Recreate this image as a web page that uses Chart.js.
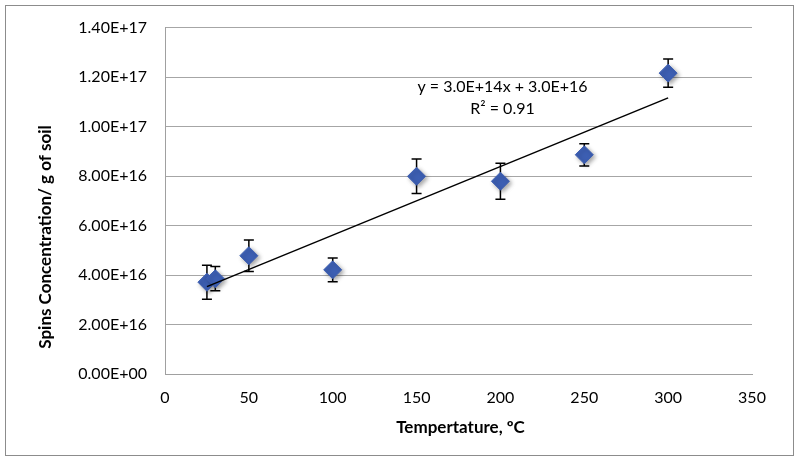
<!DOCTYPE html>
<html><head><meta charset="utf-8">
<script src="https://cdn.jsdelivr.net/npm/chart.js@4/dist/chart.umd.min.js"></script>
<style>html,body{margin:0;padding:0;background:#fff}#wrap{width:800px;height:463px}</style>
</head><body><div id="wrap"><canvas id="c" width="800" height="463"></canvas></div>
<script>
const temperatures = [25, 30, 50, 100, 150, 200, 250, 300];
const spins = [3.71e16, 3.85e16, 4.78e16, 4.21e16, 7.99e16, 7.79e16, 8.86e16, 1.216e17];
const spinErrors = [0.69e16, 0.49e16, 0.64e16, 0.48e16, 0.70e16, 0.73e16, 0.45e16, 0.57e16];
const xTickValues = [0, 50, 100, 150, 200, 250, 300, 350];
const yTickValues = [0, 2e16, 4e16, 6e16, 8e16, 1e17, 1.2e17, 1.4e17];
const yTickLabels = ['0.00E+00', '2.00E+16', '4.00E+16', '6.00E+16', '8.00E+16', '1.00E+17', '1.20E+17', '1.40E+17'];
const trendEquation = 'y = 3.0E+14x + 3.0E+16';
const trendR2 = 'R² = 0.91';
const xTitle = 'Tempertature, ºC';
const yTitle = 'Spins Concentration/ g of soil';

// least-squares trendline from the data
const n = temperatures.length;
const mx = temperatures.reduce((a, b) => a + b, 0) / n;
const my = spins.reduce((a, b) => a + b, 0) / n;
let sxy = 0, sxx = 0;
for (let i = 0; i < n; i++) { sxy += (temperatures[i] - mx) * (spins[i] - my); sxx += (temperatures[i] - mx) ** 2; }
const slope = sxy / sxx, intercept = my - slope * mx;
const xFirst = temperatures[0], xLast = temperatures[n - 1];
const trendPoints = [{x: xFirst, y: intercept + slope * xFirst}, {x: xLast, y: intercept + slope * xLast}];

const FONT = 'Lato, "Open Sans", sans-serif';

const framePlugin = {
  id: 'frame',
  beforeDraw(chart) {
    const ctx = chart.ctx;
    ctx.save();
    ctx.fillStyle = '#fff';
    ctx.fillRect(0, 0, chart.width, chart.height);
    ctx.strokeStyle = '#8c8c8c';
    ctx.lineWidth = 1;
    ctx.strokeRect(5.5, 5.5, 788, 450);
    ctx.restore();
  },
  beforeDatasetsDraw(chart) {
    const ctx = chart.ctx, xs = chart.scales.x, ys = chart.scales.y;
    ctx.save();
    ctx.strokeStyle = '#000';
    ctx.lineWidth = 1.5;
    for (let i = 0; i < n; i++) {
      const px = xs.getPixelForValue(temperatures[i]);
      const top = ys.getPixelForValue(spins[i] + spinErrors[i]);
      const bot = ys.getPixelForValue(spins[i] - spinErrors[i]);
      ctx.beginPath();
      ctx.moveTo(px, top); ctx.lineTo(px, bot);
      ctx.moveTo(px - 5, top); ctx.lineTo(px + 5, top);
      ctx.moveTo(px - 5, bot); ctx.lineTo(px + 5, bot);
      ctx.stroke();
    }
    ctx.restore();
  },
  beforeDatasetDraw(chart, args) {
    if (args.index === 0) {
      const ctx = chart.ctx;
      ctx.save();
      ctx.shadowColor = 'rgba(0,0,0,0.35)';
      ctx.shadowBlur = 4;
      ctx.shadowOffsetX = 2;
      ctx.shadowOffsetY = 2;
    }
  },
  afterDatasetDraw(chart, args) {
    if (args.index === 0) chart.ctx.restore();
  },
  afterDraw(chart) {
    const ctx = chart.ctx, a = chart.chartArea;
    ctx.save();
    ctx.fillStyle = '#000';
    ctx.textAlign = 'center';
    ctx.textBaseline = 'middle';
    ctx.font = '16px ' + FONT;
    ctx.fillText(trendEquation, 502.5, 87);
    ctx.fillText(trendR2, 502.5, 109);
    ctx.font = 'bold 17px ' + FONT;
    ctx.fillText(xTitle, (a.left + a.right) / 2 + 2, 428);
    ctx.translate(46, 237);
    ctx.rotate(-Math.PI / 2);
    ctx.fillText(yTitle, 0, 0);
    ctx.restore();
  }
};

new Chart(document.getElementById('c'), {
  type: 'scatter',
  data: {
    datasets: [
      {
        label: 'Spins',
        data: temperatures.map((t, i) => ({x: t, y: spins[i]})),
        pointStyle: 'rectRot',
        pointRadius: 9,
        pointHoverRadius: 9,
        backgroundColor: '#3d5fb3',
        borderColor: '#3d5fb3',
        borderWidth: 1,
        order: 1
      },
      {
        label: 'Trend',
        type: 'line',
        data: trendPoints,
        borderColor: '#000',
        borderWidth: 1.5,
        pointRadius: 0,
        fill: false,
        order: 0
      }
    ]
  },
  options: {
    responsive: false,
    animation: false,
    events: [],
    layout: {padding: {left: 5, top: 25, right: 48, bottom: 0}},
    plugins: {legend: {display: false}, tooltip: {enabled: false}},
    scales: {
      x: {
        type: 'linear', min: 0, max: 350,
        afterBuildTicks(s) { s.ticks = xTickValues.map(v => ({value: v})); },
        afterFit(s) { s.height = 89; },
        grid: {display: false, drawTicks: false},
        border: {display: true, color: '#a0a0a0', width: 1},
        ticks: {color: '#000', font: {family: FONT, size: 16}, padding: 14, maxRotation: 0}
      },
      y: {
        type: 'linear', min: 0, max: 1.4e17,
        afterBuildTicks(s) { s.ticks = yTickValues.map(v => ({value: v})); },
        afterFit(s) { s.width = 160; },
        grid: {color: '#a6a6a6', lineWidth: 1, drawTicks: false},
        border: {display: true, color: '#a0a0a0', width: 1},
        ticks: {color: '#000', font: {family: FONT, size: 16}, padding: 18,
          callback: (v, i) => yTickLabels[i]}
      }
    }
  },
  plugins: [framePlugin]
});
</script>
</body></html>
